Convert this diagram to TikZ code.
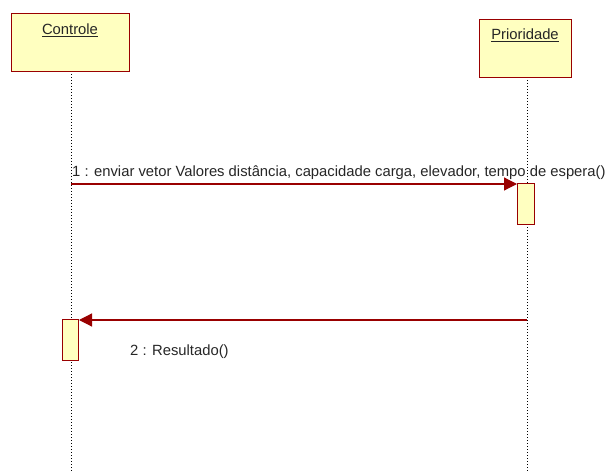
\documentclass[tikz,border=0pt]{standalone}
\usepackage{fontspec}
\setmainfont{Liberation Sans}
\usetikzlibrary{arrows.meta}
\definecolor{umlred}{HTML}{990000}
\definecolor{umlfill}{HTML}{FFFFC0}
\tikzset{
  objbox/.style={draw=umlred, fill=umlfill, line width=1.3pt, anchor=north west, inner sep=0pt},
  actbox/.style={draw=umlred, fill=umlfill, line width=1pt, anchor=north west, inner sep=0pt},
  lifeline/.style={draw=black, line width=0.8pt, dash pattern=on 1pt off 2pt},
  msg/.style={draw=umlred, line width=1.2pt, -{Triangle[length=13pt,width=13pt]}},
  lbl/.style={font=\fontsize{14.8}{17}\selectfont, text=black!85, inner sep=0pt}
}
\begin{document}
\begin{tikzpicture}[x=1pt,y=-1pt]
\useasboundingbox (0,0) rectangle (605,473);
% lifelines
\coordinate (cl0) at (71,71);
\coordinate (cl1) at (71,473);
\coordinate (pl0) at (527,77);
\coordinate (pl1) at (527,473);
\draw[lifeline] (cl0) -- (cl1);
\draw[lifeline] (pl0) -- (pl1);
% object boxes
\node[objbox, minimum width=118pt, minimum height=58pt] (ctl) at (11,13) {};
\node[lbl, anchor=base] (ctlt) at (70,35) {\underline{Controle}};
\node[objbox, minimum width=92pt, minimum height=58pt] (pri) at (479,19) {};
\node[lbl, anchor=base] (prit) at (525,40) {\underline{Prioridade}};
% activations
\node[actbox, minimum width=17pt, minimum height=41pt] (act1) at (517,183) {};
\node[actbox, minimum width=16pt, minimum height=41pt] (act2) at (62,319) {};
% messages
\coordinate (m1s) at (71,184);
\draw[msg] (m1s) -- (act1.west |- m1s);
\node[lbl, anchor=base west] (m1t) at (72,177) {1 : enviar vetor Valores distância, capacidade carga, elevador, tempo de espera()};
\coordinate (m2s) at (527,320);
\draw[msg] (m2s) -- (act2.east |- m2s);
\node[lbl, anchor=base west] (m2t) at (130,355) {2 : Resultado()};
\end{tikzpicture}
\end{document}
